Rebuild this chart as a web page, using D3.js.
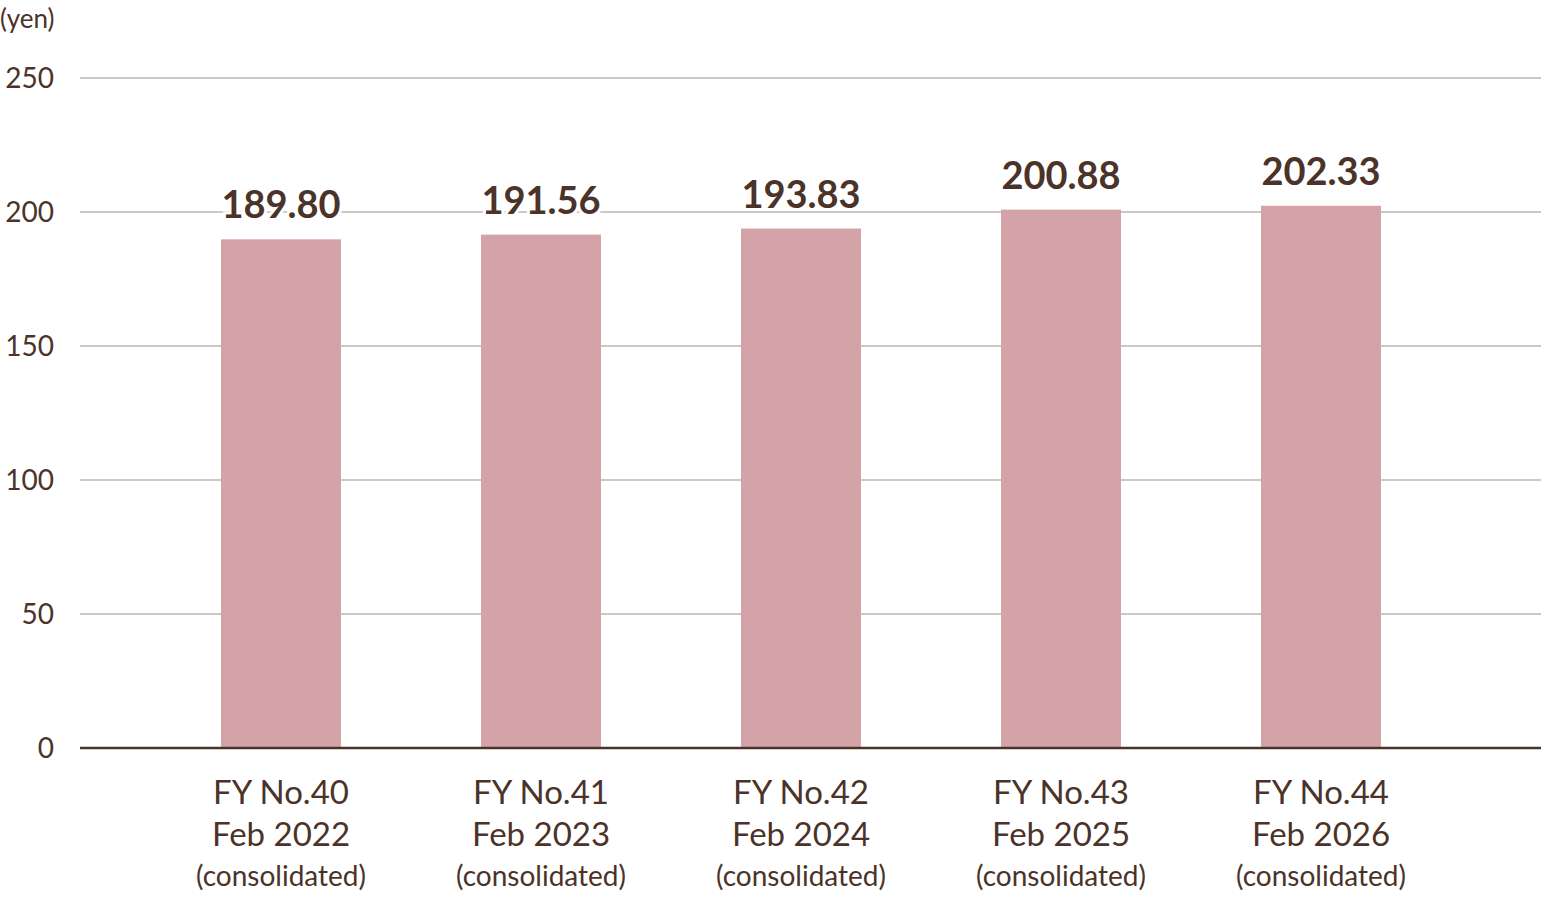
<!DOCTYPE html>
<html><head><meta charset="utf-8">
<script src="https://cdn.jsdelivr.net/npm/d3@7/dist/d3.min.js"></script>
<style>body{margin:0;background:#fff}text{font-family:Lato,"Noto Sans",sans-serif}</style>
</head><body><svg id="c" width="1541" height="901"></svg>
<script>
const categories=["FY No.40|Feb 2022","FY No.41|Feb 2023","FY No.42|Feb 2024","FY No.43|Feb 2025","FY No.44|Feb 2026"];
const values=[189.80,191.56,193.83,200.88,202.33];
const ticks=[0,50,100,150,200,250];
const ink="#4b3329";
const svg=d3.select("#c");
const y=d3.scaleLinear().domain([0,250]).range([748,78]);
const x=d3.scaleBand().domain(categories).range([151,1451]).paddingInner(140/260).paddingOuter(70/260);
ticks.filter(t=>t>0).forEach(t=>svg.append("line").attr("x1",80).attr("x2",1541).attr("y1",y(t)).attr("y2",y(t)).attr("stroke","#bdb6b3").attr("stroke-width",1.5));
ticks.forEach(t=>svg.append("text").attr("x",54).attr("y",y(t)+10).attr("text-anchor","end").attr("font-size",28).attr("fill",ink).text(t));
svg.append("text").attr("x",0).attr("y",28).attr("font-size",26).attr("fill",ink).text("(yen)");
svg.selectAll("rect").data(values).join("rect").attr("x",(d,i)=>x(categories[i])).attr("width",x.bandwidth()).attr("y",d=>y(d)).attr("height",d=>y(0)-y(d)).attr("fill","#d4a3a7");
svg.append("line").attr("x1",80).attr("x2",1541).attr("y1",748).attr("y2",748).attr("stroke",ink).attr("stroke-width",2.5);
svg.selectAll(".v").data(values).join("text").attr("x",(d,i)=>x(categories[i])+x.bandwidth()/2).attr("y",d=>y(d)-21).attr("text-anchor","middle").attr("font-size",38).attr("font-weight","bold").attr("fill",ink).attr("stroke","#fff").attr("stroke-width",6).attr("paint-order","stroke").text(d=>d.toFixed(2));
categories.forEach(c=>{const cx=x(c)+x.bandwidth()/2;const [a,b]=c.split("|");
const t=svg.append("text").attr("text-anchor","middle").attr("fill",ink);
t.append("tspan").attr("x",cx).attr("y",804).attr("font-size",33).text(a);
t.append("tspan").attr("x",cx).attr("y",846).attr("font-size",33).text(b);
t.append("tspan").attr("x",cx).attr("y",886).attr("font-size",28).text("(consolidated)");});
</script></body></html>
